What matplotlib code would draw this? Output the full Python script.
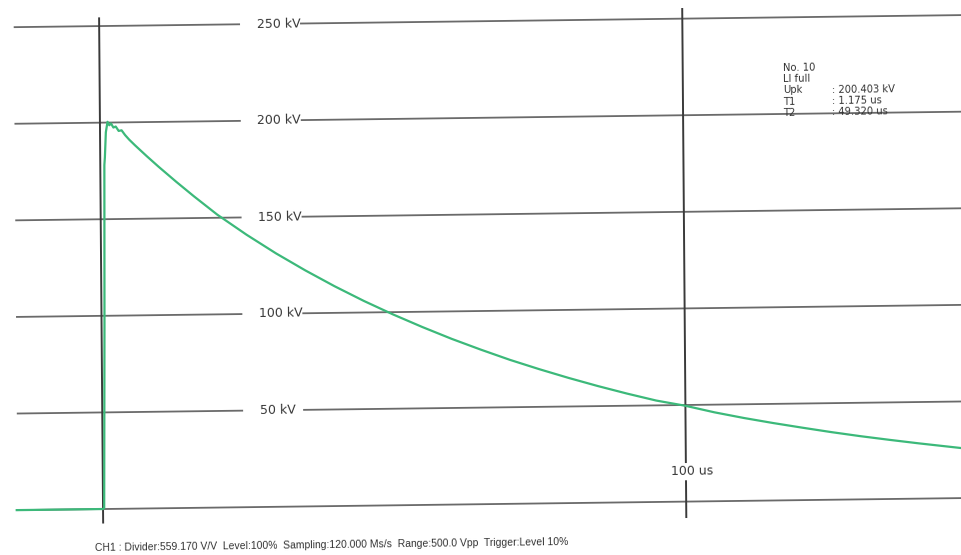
import matplotlib
matplotlib.use("Agg")
import matplotlib.pyplot as plt
from matplotlib.transforms import Affine2D

# Oscilloscope record of a full lightning impulse (time in us, voltage in kV)
time_us = [-14.8, 0.0, 0.2, 0.5, 0.7, 0.8, 1.0, 1.3, 1.6, 1.9, 2.3, 2.7, 3.2,
           3.7, 4.3, 5, 6, 8, 10, 13, 16, 20, 25, 30, 35, 40, 45, 50, 55, 60,
           65, 70, 75, 80, 85, 90, 95, 100, 105, 110, 115, 120, 125, 130, 135,
           140, 147.5]
voltage_kv = [0, 0, 0.5, 95, 178, 182, 195, 200.4, 198.6, 199.5, 197.4, 197.9,
              195.6, 195.9, 193.4, 191.0, 188.0, 182.3, 176.8, 168.9, 161.3,
              151.6, 141.0, 131.2, 122.2, 113.8, 106.0, 98.8, 92.1, 85.8, 80.0,
              74.5, 69.5, 64.8, 60.4, 56.3, 52.5, 49.6, 46.0, 42.9, 40.1, 37.5,
              35.0, 32.7, 30.6, 28.6, 25.8]

level_kv = [0, 50, 100, 150, 200, 250]
level_labels = ["", "50 kV", "100 kV", "150 kV", "200 kV", "250 kV"]
time_marks_us = [0, 100]

info_keys = ["No. 10", "LI full", "Upk", "T1", "T2"]
info_vals = ["", "", ": 200.403 kV", ": 1.175 us", ": 49.320 us"]
footer = ("CH1 : Divider:559.170 V/V  Level:100%  Sampling:120.000 Ms/s  "
          "Range:500.0 Vpp  Trigger:Level 10%")

W, H, DPI = 962, 555, 100
fig = plt.figure(figsize=(W / DPI, H / DPI), dpi=DPI)
ax = fig.add_axes([0, 0, 1, 1])
ax.set_xlim(-17.67, 147.3)
ax.set_ylim(-23.8, 263.5)
ax.axis("off")

# The printout sits slightly skewed on the page
ox, oy = 103, H - 509
skew = (Affine2D().translate(-ox, -oy).skew_deg(-0.46, 0.73)
        .translate(ox, oy))
tr = ax.transData + skew

grid_c = "#6a6a6a"
label_font = dict(family="DejaVu Sans", fontsize=9, color="#383838")

# horizontal voltage levels with their inline labels
for lv, lab in zip(level_kv, level_labels):
    if lab:
        ax.plot([-14.5, 24.0], [lv, lv], color=grid_c, lw=1.3, transform=tr)
        ax.plot([34.6, 150], [lv, lv], color=grid_c, lw=1.3, transform=tr)
        ax.text(27.0, lv, lab, ha="left", va="center", transform=tr,
                transform_rotates_text=True, rotation_mode="anchor",
                **label_font)
    else:
        ax.plot([-14.5, 150], [lv, lv], color=grid_c, lw=1.3, transform=tr)

# vertical time markers
ax.plot([time_marks_us[0]] * 2, [-7, 254], color="#3a3a3a", lw=1.4,
        transform=tr)
ax.plot([time_marks_us[1]] * 2, [-8, 255], color="#3a3a3a", lw=1.4,
        transform=tr)
ax.text(101, 15.5, "100 us", ha="center", va="center", transform=tr,
        transform_rotates_text=True, rotation_mode="anchor",
        bbox=dict(facecolor="white", edgecolor="none", pad=1.5),
        **label_font)

# impulse waveform
ax.plot(time_us, voltage_kv, color="#3cb97a", lw=1.6, transform=tr,
        solid_joinstyle="round", zorder=5)

# measurement summary
info_font = dict(family="DejaVu Sans", fontsize=7.2, color="#333333")
n = len(info_keys)
for i, (k, v) in enumerate(zip(info_keys, info_vals)):
    y = 199.0 + (n - 1 - i) * 5.8
    ax.text(117.2, y, k, ha="left", va="baseline", transform=tr,
            transform_rotates_text=True, rotation_mode="anchor", **info_font)
    if v:
        ax.text(125.6, y, v, ha="left", va="baseline", transform=tr,
                transform_rotates_text=True, rotation_mode="anchor",
                **info_font)

ax.text(-1.4, -20.2, footer, ha="left", va="center", transform=tr,
        transform_rotates_text=True, rotation_mode="anchor",
        family="Liberation Sans", fontsize=7.5, color="#333333")

fig.savefig("out.png", dpi=DPI, facecolor="white")
